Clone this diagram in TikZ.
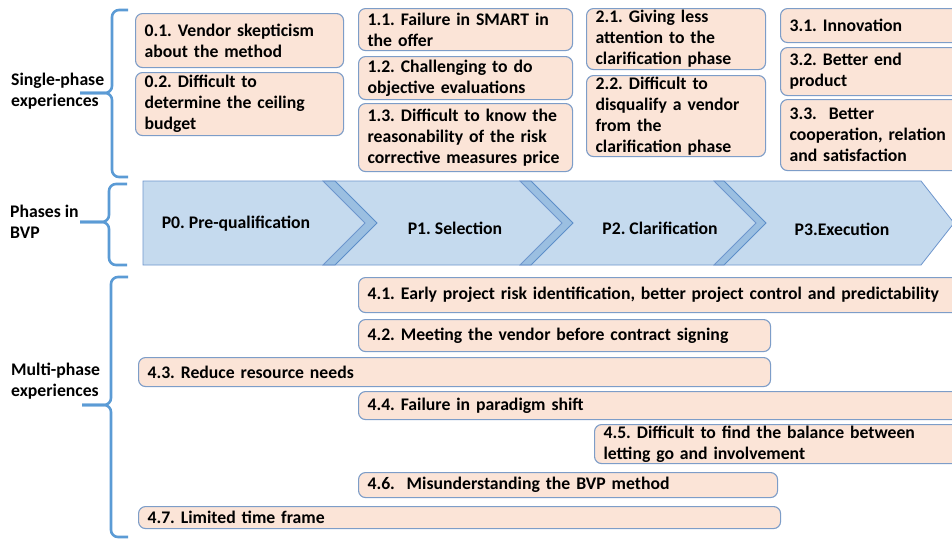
\documentclass[tikz,border=0pt]{standalone}
\usepackage{fontspec}
\setmainfont{Carlito}
\definecolor{boxfill}{RGB}{251,228,215}
\definecolor{boxline}{RGB}{125,157,200}
\definecolor{bracecol}{RGB}{91,155,213}
\definecolor{phasecol}{RGB}{48,123,194}
\definecolor{phaseline}{RGB}{110,150,205}
\begin{document}
\begin{tikzpicture}[x=1pt,y=-1pt,
  every node/.style={font=\fontsize{17.7}{21}\selectfont\bfseries\frenchspacing, text=black},
  item/.style={draw=boxline, fill=boxfill, line width=1.1pt, rounded corners=7pt,
    anchor=north west, inner xsep=9pt, inner ysep=0pt, align=left},
  lbl/.style={anchor=west, align=left, inner sep=0pt},
  brace/.style={draw=bracecol, line width=2.6pt, rounded corners=7pt},
  phase/.style={fill=phasecol, fill opacity=0.28, draw=phaseline, line width=0.8pt},
  ]
\clip (0,0) rectangle (952,539);
\fill[white] (0,0) rectangle (952,539);

% group labels
\node[lbl] (single) at (11,91) {Single-phase\\experiences};
\node[lbl] (phases) at (10,222) {Phases in\\BVP};
\node[lbl] (multi) at (11,381) {Multi-phase\\experiences};

% braces
\draw[brace] (128,10) -- (112,10) -- (112,93) -- (80,93);
\draw[brace] (80,93) -- (112,93) -- (112,177) -- (128,177);
\draw[brace] (127,184) -- (109,184) -- (109,222) -- (80,222);
\draw[brace] (80,222) -- (109,222) -- (109,265) -- (127,265);
\draw[brace] (128,277) -- (111,277) -- (111,405) -- (82,405);
\draw[brace] (82,405) -- (111,405) -- (111,537) -- (128,537);

% phase chevrons
\path[phase] (143,181) -- (335,181) -- (377,223) -- (335,265) -- (143,265) -- cycle;
\path[phase] (323,181) -- (531,181) -- (573,223) -- (531,265) -- (323,265) -- (365,223) -- cycle;
\path[phase] (520,181) -- (724,181) -- (766,223) -- (724,265) -- (520,265) -- (562,223) -- cycle;
\path[phase] (714,181) -- (921,181) -- (954,223) -- (921,265) -- (714,265) -- (756,223) -- cycle;
\node (p0) at (236,224) {P0. Pre-qualification};
\node (p1) at (455,228) {P1. Selection};
\node (p2) at (660,228) {P2. Clarification};
\node (p3) at (842,229) {P3.Execution};

% single-phase experiences
\node[item, text width=190pt, minimum height=54pt] (e01) at (135,13) {0.1. Vendor skepticism\\about the method};
\node[item, text width=190pt, minimum height=63pt] (e02) at (135,72) {0.2. Difficult to\\determine the ceiling\\budget};
\node[item, text width=196pt, minimum height=42pt] (e11) at (358,8) {1.1. Failure in SMART in\\the offer};
\node[item, text width=196pt, minimum height=43pt] (e12) at (358,56) {1.2. Challenging to do\\objective evaluations};
\node[item, text width=196pt, minimum height=68pt] (e13) at (358,103) {1.3. Difficult to know the\\reasonability of the risk\\corrective measures price};
\node[item, text width=161pt, minimum height=61pt] (e21) at (586,8) {2.1. Giving less\\attention to the\\clarification phase};
\node[item, text width=161pt, minimum height=81pt] (e22) at (586,75) {2.2. Difficult to\\disqualify a vendor\\from the\\clarification phase};
\node[item, text width=167pt, minimum height=34pt] (e31) at (780,8) {3.1. Innovation};
\node[item, text width=167pt, minimum height=48pt] (e32) at (780,47) {3.2. Better end\\product};
\node[item, text width=167pt, minimum height=71pt] (e33) at (780,99) {3.3.\ \ Better\\cooperation, relation\\and satisfaction};

% multi-phase experiences
\node[item, text width=586pt, minimum height=35pt] (e41) at (358,277) {4.1. Early project risk identification, better project control and predictability};
\node[item, text width=394pt, minimum height=32pt] (e42) at (358,319) {4.2. Meeting the vendor before contract signing};
\node[item, text width=614pt, minimum height=29pt] (e43) at (138,357) {4.3. Reduce resource needs};
\node[item, text width=586pt, minimum height=28pt] (e44) at (358,391) {4.4. Failure in paradigm shift};
\node[item, text width=350pt, minimum height=39pt] (e45) at (594,424) {4.5. Difficult to find the balance between\\letting go and involvement};
\node[item, text width=401pt, minimum height=25pt] (e46) at (358,472) {4.6.\ \ Misunderstanding the BVP method};
\node[item, text width=624pt, minimum height=22pt] (e47) at (138,506) {4.7. Limited time frame};
\end{tikzpicture}
\end{document}
